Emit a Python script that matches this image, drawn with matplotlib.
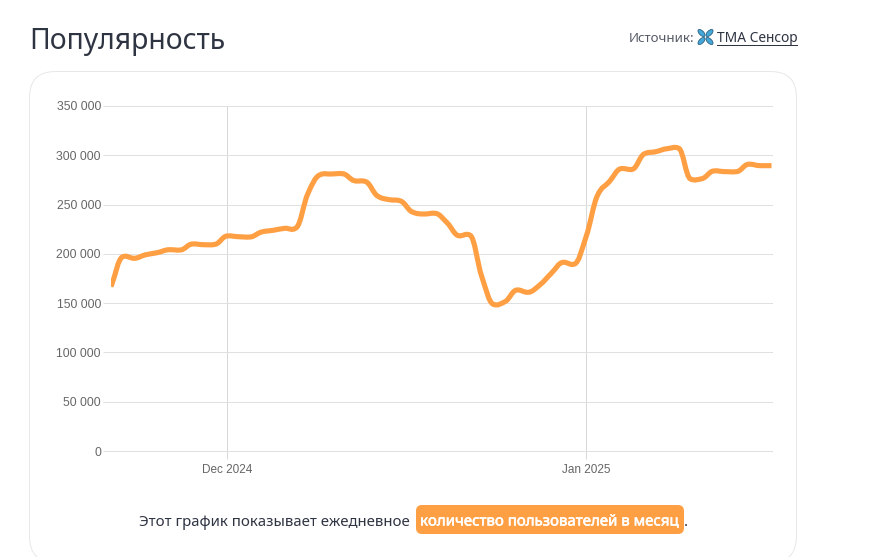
import matplotlib
matplotlib.use('Agg')
import matplotlib.pyplot as plt
import matplotlib.dates as mdates
import matplotlib.patheffects as pe
from matplotlib.patches import FancyBboxPatch, PathPatch, Ellipse
from matplotlib.path import Path
import numpy as np
import pandas as pd

W, H = 871, 557

# Daily values
start_date = '2024-11-21'
users = [166700, 197000, 195500, 199100, 201200, 204200, 203900, 210000, 209300, 209700,
         218100, 217400, 217100, 222200, 223900, 225900, 226600, 261400, 280000, 281000,
         281300, 274200, 273200, 258700, 255000, 253600, 242500, 240400, 241100, 231600,
         218400, 218800, 176800, 148800, 151500, 163300, 161000, 168400, 180300, 191400,
         189700, 217400, 259700, 273200, 286400, 285800, 301300, 303600, 306700, 307100,
         276000, 276300, 284100, 283400, 283400, 290900, 289500, 289500]
y_ticks = [0, 50000, 100000, 150000, 200000, 250000, 300000, 350000]
x_tick_dates = ['2024-12-01', '2025-01-01']
x_tick_labels = ['Dec 2024', 'Jan 2025']

title = 'Популярность'
source_label = 'Источник:'
source_name = 'TMA Сенсор'
note_text = 'Этот график показывает ежедневное'
note_badge = 'количество пользователей в месяц'

ORANGE = '#ff9f43'
TEXT = '#2f3442'
GRID = '#e0e0e0'
PX = 0.72  # one pixel in points at dpi 100

fig = plt.figure(figsize=(W / 100, H / 100), dpi=100, facecolor='white')

# Full-figure layer in pixel coordinates for the page around the chart
bg = fig.add_axes([0, 0, 1, 1])
bg.set_xlim(0, W)
bg.set_ylim(H, 0)
bg.axis('off')

bg.add_patch(FancyBboxPatch((29.5, 71.5), 767, 491, boxstyle='round,pad=0,rounding_size=26',
                            fc='white', ec='#e8e8ea', lw=PX))
bg.text(29, 41.5, title, fontsize=20.4, family='Noto Sans', color=TEXT, va='center', ha='left')
bg.text(629, 38, source_label, fontsize=9.6, family='Noto Sans', color='#555a66', va='center', ha='left')
bg.text(717, 38, source_name, fontsize=9.9, family='Noto Sans', color=TEXT, va='center', ha='left')
bg.plot([717, 797], [44.5, 44.5], color=TEXT, lw=PX)

# Source icon
for cx, cy, ang in [(701.5, 33, 45), (709.5, 33, -45), (701.5, 41, -45), (709.5, 41, 45)]:
    bg.add_patch(Ellipse((cx, cy), 9, 4.5, angle=ang, fc='#45a6d8', ec='#1d4f6e', lw=0.5))

bg.text(139, 522, note_text, fontsize=10.8, family='Noto Sans', color=TEXT, va='center', ha='left')
bg.add_patch(FancyBboxPatch((416, 505), 268, 29, boxstyle='round,pad=0,rounding_size=6',
                            fc=ORANGE, ec='none'))
badge = bg.text(420, 522, note_badge, fontsize=10.8, family='Noto Sans', color='white', va='center', ha='left')
badge.set_path_effects([pe.withStroke(linewidth=0.4, foreground='white')])
bg.text(684, 522, '.', fontsize=10.8, family='Noto Sans', color=TEXT, va='center', ha='left')

# Chart
dates = pd.date_range(start_date, periods=len(users))
x = mdates.date2num(dates)
y = np.array(users, dtype=float)

ax = fig.add_axes([111 / W, 1 - 451 / H, (771.5 - 111) / W, (451 - 106) / H])
ax.patch.set_alpha(0)
ax.set_xlim(x[0], x[-1])
ax.set_ylim(0, 350000)
for s in ax.spines.values():
    s.set_visible(False)

ax.set_yticks(y_ticks)
ax.set_yticklabels([f'{v:,}'.replace(',', ' ') for v in y_ticks])
ax.set_xticks(mdates.date2num(pd.to_datetime(x_tick_dates)))
ax.set_xticklabels(x_tick_labels)
ax.tick_params(axis='both', length=8 * PX, width=PX, color=GRID, labelcolor='#666666', labelsize=8.8, pad=1.5)
for lab in ax.get_xticklabels() + ax.get_yticklabels():
    lab.set_family('Liberation Sans')
ax.grid(True, axis='y', color=GRID, lw=PX, clip_on=False)
ax.grid(True, axis='x', color='#d8d8d8', lw=PX)
ax.tick_params(axis='x', color='#d8d8d8', pad=3.5, labelsize=8.5)
ax.set_axisbelow(True)

# Smooth line through the daily points, softened tangents with little overshoot
step = np.diff(x)
delta = np.diff(y) / step
slope = np.gradient(y, x)
for i in range(1, len(y) - 1):
    if delta[i - 1] * delta[i] > 0:
        slope[i] = 0.5 * slope[i] + delta[i - 1] * delta[i] / (delta[i - 1] + delta[i])
    else:
        slope[i] = 0.35 * slope[i]
verts = [(x[0], y[0])]
codes = [Path.MOVETO]
for i in range(len(x) - 1):
    d = step[i] * 0.4
    verts += [(x[i] + d, y[i] + slope[i] * d), (x[i + 1] - d, y[i + 1] - slope[i + 1] * d), (x[i + 1], y[i + 1])]
    codes += [Path.CURVE4] * 3
ax.add_patch(PathPatch(Path(verts, codes), fc='none', ec=ORANGE, lw=3.7, capstyle='butt', joinstyle='round'))

fig.savefig('out.png', dpi=100)
plt.close()
